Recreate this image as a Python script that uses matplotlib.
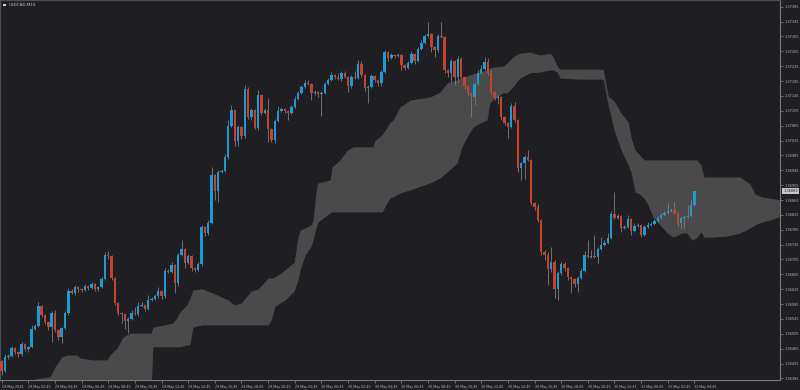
import matplotlib
matplotlib.use("Agg")
import matplotlib.pyplot as plt
import matplotlib.transforms as mtransforms
from matplotlib.patches import Rectangle

# ---- data (USDCAD, M15) ----
symbol = "USDCAD,M15"
first_open = 1.36432

closes = [
    1.36405, 1.36443, 1.36445, 1.36467, 1.36456, 1.36451, 1.36478, 1.36464, 1.36470, 1.36518,
    1.36526, 1.36580, 1.36556, 1.36537, 1.36523, 1.36561, 1.36515, 1.36496, 1.36521, 1.36561,
    1.36620, 1.36615, 1.36631, 1.36626, 1.36623, 1.36634, 1.36628, 1.36639, 1.36626, 1.36631,
    1.36652, 1.36717, 1.36714, 1.36655, 1.36588, 1.36561, 1.36558, 1.36540, 1.36545, 1.36561,
    1.36558, 1.36580, 1.36583, 1.36572, 1.36596, 1.36599, 1.36607, 1.36620, 1.36607, 1.36674,
    1.36671, 1.36690, 1.36642, 1.36717, 1.36733, 1.36696, 1.36714, 1.36682, 1.36677, 1.36693,
    1.36792, 1.36776, 1.36803, 1.36932, 1.36889, 1.36940, 1.36943, 1.36981, 1.37064, 1.37107,
    1.37024, 1.37061, 1.37037, 1.37164, 1.37088, 1.37107, 1.37059, 1.37147, 1.37099, 1.37107,
    1.37056, 1.37026, 1.37077, 1.37104, 1.37110, 1.37104, 1.37099, 1.37115, 1.37137, 1.37153,
    1.37169, 1.37180, 1.37177, 1.37153, 1.37155, 1.37150, 1.37153, 1.37177, 1.37188, 1.37201,
    1.37196, 1.37190, 1.37207, 1.37196, 1.37172, 1.37196, 1.37193, 1.37231, 1.37201, 1.37166,
    1.37169, 1.37199, 1.37188, 1.37180, 1.37209, 1.37263, 1.37247, 1.37255, 1.37252, 1.37255,
    1.37228, 1.37220, 1.37233, 1.37258, 1.37239, 1.37271, 1.37287, 1.37306, 1.37311, 1.37277,
    1.37268, 1.37306, 1.37303, 1.37215, 1.37207, 1.37239, 1.37196, 1.37244, 1.37196, 1.37172,
    1.37153, 1.37142, 1.37177, 1.37207, 1.37217, 1.37236, 1.37207, 1.37155, 1.37139, 1.37142,
    1.37088, 1.37072, 1.37061, 1.37118, 1.37080, 1.36951, 1.36964, 1.36981, 1.36973, 1.36857,
    1.36846, 1.36811, 1.36725, 1.36717, 1.36679, 1.36698, 1.36626, 1.36669, 1.36693, 1.36682,
    1.36658, 1.36652, 1.36639, 1.36655, 1.36674, 1.36717, 1.36712, 1.36714, 1.36712, 1.36733,
    1.36744, 1.36749, 1.36763, 1.36827, 1.36817, 1.36822, 1.36790, 1.36792, 1.36814, 1.36782,
    1.36795, 1.36798, 1.36771, 1.36792, 1.36798, 1.36800, 1.36808, 1.36817, 1.36825, 1.36830,
    1.36835, 1.36838, 1.36830, 1.36803, 1.36817, 1.36819, 1.36822, 1.36851, 1.36889,
]

# wick lengths beyond the body, in points (0.00001)
wick_up = [
    3, 8, 5, 5, 3, 3, 5, 3, 3, 10,
    5, 11, 3, 3, 3, 5, 8, 3, 3, 5,
    8, 5, 5, 3, 3, 5, 3, 5, 3, 3,
    5, 8, 10, 3, 3, 3, 3, 3, 5, 8,
    16, 10, 8, 3, 13, 5, 5, 11, 3, 8,
    5, 8, 3, 5, 24, 3, 5, 3, 3, 5,
    5, 3, 8, 22, 3, 5, 5, 8, 16, 13,
    3, 5, 3, 11, 5, 5, 3, 13, 3, 5,
    32, 3, 5, 13, 5, 3, 3, 5, 8, 5,
    5, 8, 8, 3, 5, 3, 5, 5, 5, 8,
    3, 11, 5, 5, 3, 5, 16, 11, 8, 3,
    5, 5, 3, 3, 5, 5, 3, 5, 3, 5,
    3, 3, 5, 8, 3, 5, 8, 5, 32, 3,
    3, 5, 38, 3, 3, 5, 3, 8, 5, 3,
    3, 3, 5, 8, 11, 13, 11, 8, 3, 5,
    3, 3, 3, 8, 11, 3, 3, 5, 19, 3,
    3, 8, 3, 5, 8, 40, 5, 5, 5, 5,
    3, 3, 3, 5, 8, 11, 40, 16, 56, 5,
    22, 8, 13, 8, 59, 5, 3, 5, 11, 3,
    8, 5, 3, 5, 8, 5, 5, 5, 5, 5,
    22, 5, 22, 3, 5, 5, 30, 16, 0,
]
wick_dn = [
    10, 3, 5, 3, 5, 8, 5, 5, 8, 3,
    3, 3, 5, 5, 8, 40, 5, 8, 15, 3,
    5, 3, 5, 8, 5, 3, 5, 3, 5, 5,
    3, 3, 8, 5, 5, 5, 24, 22, 32, 3,
    3, 5, 3, 5, 3, 3, 3, 5, 8, 5,
    3, 3, 27, 8, 3, 13, 3, 8, 5, 3,
    5, 8, 5, 3, 24, 30, 3, 3, 5, 3,
    13, 13, 8, 5, 5, 8, 3, 5, 5, 3,
    35, 5, 8, 3, 3, 5, 19, 3, 3, 3,
    3, 3, 3, 19, 5, 8, 60, 3, 3, 3,
    5, 3, 5, 3, 16, 5, 3, 3, 5, 8,
    40, 3, 5, 8, 8, 3, 8, 3, 5, 3,
    13, 5, 3, 3, 8, 3, 3, 3, 3, 13,
    19, 5, 3, 8, 11, 24, 22, 13, 5, 8,
    5, 54, 22, 3, 3, 3, 5, 5, 5, 16,
    8, 5, 30, 3, 5, 11, 32, 43, 3, 5,
    8, 5, 8, 13, 43, 8, 24, 30, 5, 8,
    8, 38, 8, 22, 3, 3, 3, 3, 3, 16,
    3, 3, 3, 3, 3, 3, 11, 3, 3, 11,
    3, 3, 5, 3, 3, 3, 3, 3, 3, 3,
    3, 3, 3, 8, 16, 30, 3, 3, 3,
]

# Ichimoku cloud edges (bar position, upper edge, lower edge)
cloud_bar = [
    10.0, 14.5, 16.0, 18.1, 19.6, 22.6, 23.5, 27.1, 31.6, 32.5,
    34.6, 36.4, 38.5, 44.8, 45.4, 51.4, 52.6, 53.5, 55.6, 56.5,
    57.4, 60.2, 64.1, 68.0, 69.8, 71.9, 74.9, 77.0, 80.0, 80.9,
    82.1, 85.1, 87.8, 89.0, 89.6, 91.1, 92.9, 93.5, 94.1, 94.7,
    95.0, 98.6, 99.2, 101.6, 103.7, 105.5, 111.5, 112.1, 114.2, 115.7,
    116.6, 117.5, 119.6, 122.6, 128.6, 131.6, 133.7, 136.7, 138.2, 139.7,
    141.5, 143.6, 145.7, 146.6, 148.1, 150.5, 151.7, 153.5, 155.6, 158.6,
    161.6, 164.7, 165.6, 166.8, 167.7, 173.7, 180.6, 182.1, 183.9, 186.0,
    188.1, 189.0, 190.2, 191.1, 192.9, 193.8, 195.6, 197.7, 199.8, 201.6,
    204.3, 205.8, 207.3, 208.8, 210.0, 210.9, 213.6, 217.8, 221.7, 224.7,
    226.2, 228.3, 230.7, 234.0,
]
cloud_top = [
    1.36384, 1.36389, 1.36416, 1.36443, 1.36448, 1.36448, 1.36440, 1.36435, 1.36435, 1.36448,
    1.36467, 1.36496, 1.36507, 1.36507, 1.36523, 1.36534, 1.36548, 1.36564, 1.36583, 1.36601,
    1.36623, 1.36626, 1.36612, 1.36596, 1.36583, 1.36588, 1.36620, 1.36626, 1.36655, 1.36655,
    1.36658, 1.36677, 1.36698, 1.36768, 1.36784, 1.36790, 1.36798, 1.36811, 1.36865, 1.36905,
    1.36911, 1.36919, 1.36954, 1.36973, 1.36999, 1.37008, 1.37008, 1.37026, 1.37040, 1.37061,
    1.37075, 1.37080, 1.37115, 1.37134, 1.37142, 1.37155, 1.37180, 1.37188, 1.37193, 1.37199,
    1.37204, 1.37209, 1.37215, 1.37220, 1.37223, 1.37225, 1.37233, 1.37250, 1.37260, 1.37263,
    1.37255, 1.37260, 1.37250, 1.37225, 1.37217, 1.37217, 1.37217, 1.37145, 1.37131, 1.37099,
    1.37075, 1.37032, 1.36999, 1.36991, 1.36973, 1.36973, 1.36973, 1.36973, 1.36973, 1.36973,
    1.36973, 1.36973, 1.36973, 1.36973, 1.36959, 1.36927, 1.36927, 1.36927, 1.36927, 1.36908,
    1.36881, 1.36873, 1.36870, 1.36865,
]
cloud_bot = [
    1.36340, 1.36340, 1.36340, 1.36340, 1.36340, 1.36340, 1.36340, 1.36340, 1.36340, 1.36340,
    1.36340, 1.36340, 1.36340, 1.36340, 1.36470, 1.36470, 1.36470, 1.36470, 1.36475, 1.36475,
    1.36523, 1.36529, 1.36529, 1.36529, 1.36529, 1.36529, 1.36529, 1.36529, 1.36529, 1.36542,
    1.36580, 1.36596, 1.36620, 1.36650, 1.36677, 1.36717, 1.36741, 1.36757, 1.36782, 1.36798,
    1.36806, 1.36830, 1.36833, 1.36833, 1.36833, 1.36833, 1.36833, 1.36833, 1.36833, 1.36857,
    1.36870, 1.36873, 1.36884, 1.36892, 1.36911, 1.36924, 1.36940, 1.36964, 1.37008, 1.37034,
    1.37061, 1.37072, 1.37080, 1.37126, 1.37139, 1.37153, 1.37153, 1.37169, 1.37193, 1.37207,
    1.37209, 1.37215, 1.37215, 1.37209, 1.37193, 1.37190, 1.37190, 1.37120, 1.37053, 1.36999,
    1.36959, 1.36940, 1.36886, 1.36884, 1.36870, 1.36857, 1.36819, 1.36798, 1.36776, 1.36765,
    1.36776, 1.36776, 1.36757, 1.36765, 1.36779, 1.36765, 1.36765, 1.36768, 1.36776, 1.36790,
    1.36798, 1.36806, 1.36811, 1.36822,
]

price_ticks = [
    1.37385, 1.37345, 1.37305, 1.37265, 1.37225, 1.37185, 1.37145, 1.37105, 1.37065,
    1.37025, 1.36985, 1.36945, 1.36905, 1.36865, 1.36825, 1.36785, 1.36745, 1.36705,
    1.36665, 1.36625, 1.36585, 1.36545, 1.36505, 1.36465, 1.36425, 1.36385,
]
time_labels = [
    "29 May 2024", "29 May 02:45", "29 May 04:45", "29 May 06:45", "29 May 08:45",
    "29 May 10:45", "29 May 12:45", "29 May 14:45", "29 May 16:45", "29 May 18:45",
    "29 May 20:45", "29 May 22:45", "30 May 00:45", "30 May 02:45", "30 May 04:45",
    "30 May 06:45", "30 May 08:45", "30 May 10:45", "30 May 12:45", "30 May 14:45",
    "30 May 16:45", "30 May 18:45", "30 May 20:45", "30 May 22:45", "31 May 00:45",
    "31 May 02:45", "31 May 04:45",
]

# ---- colours ----
bg = "#1e1e23"
cloud_col = "#4a4a4a"
bull = "#1b9ad6"
bear = "#c8412b"
wick_col = "#7e7e7e"
txt = "#b8b8b8"

# ---- build candles ----
opens = [first_open] + closes[:-1]
bars = list(range(len(closes)))
highs, lows, body_lo, body_h, colors = [], [], [], [], []
for o, c, u, d in zip(opens, closes, wick_up, wick_dn):
    top, bot = max(o, c), min(o, c)
    highs.append(top + u * 1e-5)
    lows.append(bot - d * 1e-5)
    body_lo.append(bot)
    body_h.append(max(top - bot, 2e-5))
    colors.append(bull if c > o else bear)

fig = plt.figure(figsize=(8, 3.9), dpi=100, facecolor=bg)
ax = fig.add_axes([0, 10 / 390, 780 / 800, 380 / 390])
ax.set_facecolor(bg)

ax.fill_between(cloud_bar, cloud_bot, cloud_top, color=cloud_col, lw=0, zorder=1)
ax.vlines(bars, lows, highs, color=wick_col, lw=0.6, zorder=2)
ax.bar(bars, body_h, bottom=body_lo, width=0.72, color=colors, lw=0, zorder=3)

ax.set_xlim(-0.51, 233.7)
ax.set_ylim(1.363808, 1.37403)

# price axis on the right
ax.yaxis.tick_right()
ax.set_yticks(price_ticks)
ax.set_yticklabels([f"{p:.5f}" for p in price_ticks])
ax.tick_params(axis="y", colors="#8a8a8a", labelcolor=txt, labelsize=2.5,
               length=2, width=0.5, pad=1.0)

# time axis
ax.set_xticks(list(range(0, 8 * len(time_labels), 8)))
ax.set_xticklabels(time_labels)
ax.tick_params(axis="x", colors="#8a8a8a", labelcolor=txt, labelsize=2.3,
               length=2.5, width=0.5, pad=0.8)
for lbl in ax.get_xticklabels():
    lbl.set_ha("left")

for side in ["right", "bottom"]:
    ax.spines[side].set_color("#7a7a7a")
    ax.spines[side].set_linewidth(0.8)
for side in ["left", "top"]:
    ax.spines[side].set_color("#4e4e4e")
    ax.spines[side].set_linewidth(1.0)

# current price box
trans = mtransforms.blended_transform_factory(ax.transAxes, ax.transData)
ax.text(1.004, closes[-1], f"{closes[-1]:.5f}", transform=trans, fontsize=2.5,
        color=bg, va="center", ha="left", clip_on=False,
        bbox=dict(boxstyle="square,pad=0.25", fc="#c8c8c8", ec="none"))

# symbol caption
fig.patches.append(Rectangle((3 / 800, 1 - 6 / 390), 3 / 800, 2.5 / 390,
                             transform=fig.transFigure, fc="#d0d0d0", ec="none"))
fig.text(9 / 800, 1 - 5 / 390, symbol, fontsize=3.0, color="#c8c8c8", va="center")

fig.savefig("out.png", dpi=100, facecolor=bg)
